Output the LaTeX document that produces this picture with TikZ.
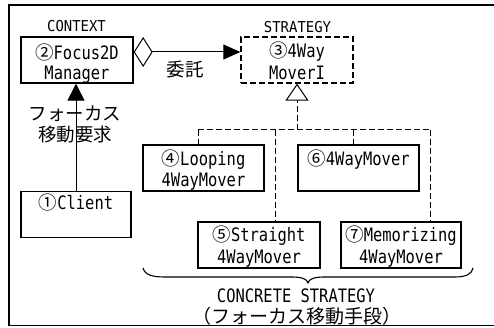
\documentclass[tikz,border=0pt]{standalone}
\usepackage{fontspec}
\usetikzlibrary{arrows.meta,calc}
\newfontfamily\lat[FakeStretch=0.835]{DejaVu Sans Mono}
\newfontfamily\lats[FakeStretch=0.93]{DejaVu Sans Mono}
\newfontfamily\jp{Noto Sans CJK JP}
\newcommand\cn[1]{{\jp #1}}
\begin{document}
\begin{tikzpicture}[x=1pt,y=-1pt,
  box/.style={draw, line width=1.3pt, inner sep=0, minimum height=46pt},
  dbox/.style={box, dash pattern=on 6pt off 3pt},
  dline/.style={line width=1pt, dash pattern=on 6pt off 3pt},
  conn/.style={line width=1pt},
  txt/.style={inner sep=0, anchor=base, font=\fontsize{18.5}{21}\lat},
  small/.style={inner sep=0, anchor=base, font=\fontsize{15}{18}\lats},
  jtxt/.style={inner sep=0, font=\fontsize{18.5}{21}\jp},
  jbig/.style={inner sep=0, font=\fontsize{19}{21}\jp},
]
\useasboundingbox (0,0) rectangle (494,328);
% frame
\draw[line width=1.4pt] (494,5) -- (9,5) -- (9,325.5) -- (494,325.5);

% boxes
\node[box,  minimum width=112pt] (m2) at (77,60) {};
\node[dbox, minimum width=112pt] (m3) at (297,60) {};
\node[box,  minimum width=121pt] (m4) at (203.5,168) {};
\node[box,  minimum width=121pt] (m6) at (358.5,168) {};
\node[box,  minimum width=110pt] (m1) at (76,214.5) {};
\node[box,  minimum width=122pt] (m5) at (259,245) {};
\node[box,  minimum width=120pt] (m7) at (401,245) {};

% box texts
\node[txt] (t2a) at ([yshift=-23pt]m2.north) {\cn{②}Focus2D};
\node[txt] (t2b) at ([yshift=-43pt]m2.north) {Manager};
\node[txt] (t3a) at ([yshift=-21pt]m3.north) {\cn{③}4Way};
\node[txt] (t3b) at ([yshift=-43pt]m3.north) {MoverI};
\node[txt] (t4a) at ([yshift=-21pt]m4.north) {\cn{④}Looping};
\node[txt] (t4b) at ([yshift=-42pt]m4.north) {4WayMover};
\node[txt] (t6a) at ([yshift=-21pt]m6.north) {\cn{⑥}4WayMover};
\node[txt] (t1a) at ([yshift=-19pt]m1.north) {\cn{①}Client};
\node[txt] (t5a) at ([yshift=-20pt]m5.north) {\cn{⑤}Straight};
\node[txt] (t5b) at ([yshift=-42pt]m5.north) {4WayMover};
\node[txt] (t7a) at ([yshift=-20pt]m7.north) {\cn{⑦}Memorizing};
\node[txt] (t7b) at ([yshift=-42pt]m7.north) {4WayMover};

% labels
\node[small] (lctx) at (76.5,32) {CONTEXT};
\node[small] (lstr) at (297.5,33) {STRATEGY};
\node[jtxt] (ldel) at (185,69.5) {委託};
\node[jtxt] (lreq1) at (75,113.5) {フォーカス};
\node[jtxt] (lreq2) at (75,135) {移動要求};
\node[txt] (lcs) at (296,302) {CONCRETE STRATEGY};
\node[jbig] (lcs2) at (297,316) {（フォーカス移動手段）};

% connectors
\draw[conn, -{Triangle[length=17pt,width=17pt]}] (m1.north) -- (m1.north |- m2.south);
\draw[conn, {Diamond[open,length=19pt,width=30pt]}-{Triangle[length=17pt,width=15pt]}]
  ([yshift=8pt]m2.east) -- ([yshift=8pt]m3.west);

% inheritance tree
\coordinate (j)  at (297,130);
\coordinate (jl) at (198,130);
\coordinate (j5) at (275,130);
\coordinate (j6) at (353,130);
\coordinate (jr) at (430,130);
\draw[dline, -{Triangle[open,length=17pt,width=23pt]}] (j) -- (m3.south);
\draw[dline] (jl) -- (jr);
\draw[dline] (jl) -- (jl |- m4.north);
\draw[dline] (j5) -- (j5 |- m5.north);
\draw[dline] (j6) -- (j6 |- m6.north);
\draw[dline] (jr) -- (jr |- m7.north);

% brace
\draw[line width=1.1pt] (143,268) .. controls (145,275) and (152,277) .. (165,277)
  -- (292,277) .. controls (302,277) and (307,279) .. (308,283)
  .. controls (309,279) and (314,277) .. (324,277)
  -- (455,277) .. controls (466,277) and (472,274) .. (473,268);
\end{tikzpicture}
\end{document}
